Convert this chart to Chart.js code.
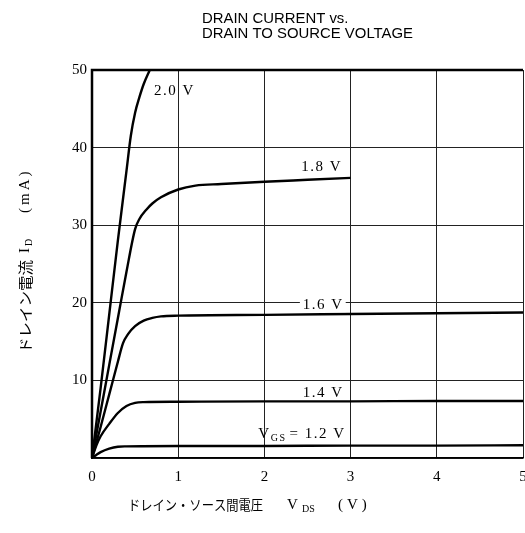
<!DOCTYPE html>
<html><head><meta charset="utf-8">
<script src="https://cdn.jsdelivr.net/npm/chart.js@4/dist/chart.umd.min.js"></script>
<style>html,body{margin:0;padding:0;background:#fff}#wrap{width:525px;height:533px}</style>
</head><body><div id="wrap"><canvas id="c" width="525" height="533"></canvas></div>
<script>
// ---- data ----
const vds20 = [0, 0.1, 0.2, 0.3, 0.4, 0.45, 0.5, 0.55, 0.6, 0.67];
const id20  = [0, 9, 18.5, 28, 37, 41.5, 44.5, 46.5, 48.2, 50];
const vds18 = [0, 0.1, 0.2, 0.3, 0.4, 0.5, 0.55, 0.63, 0.7, 0.8, 1.0, 1.2, 1.5, 2, 2.5, 3];
const id18  = [0, 6, 12, 18, 24, 29.5, 30.8, 32, 32.8, 33.6, 34.6, 35.1, 35.3, 35.6, 35.85, 36.1];
const vds16 = [0, 0.1, 0.2, 0.3, 0.36, 0.42, 0.5, 0.6, 0.7, 0.8, 1, 2, 3, 4, 5];
const id16  = [0, 4, 8.2, 12.4, 14.8, 16.0, 17.0, 17.7, 18.05, 18.25, 18.35, 18.45, 18.55, 18.65, 18.75];
const vds14 = [0, 0.05, 0.1, 0.2, 0.3, 0.4, 0.5, 0.6, 1, 2, 3, 4, 5];
const id14  = [0, 1.6, 2.8, 4.4, 5.8, 6.7, 7.1, 7.2, 7.25, 7.3, 7.3, 7.35, 7.35];
const vds12 = [0, 0.05, 0.1, 0.2, 0.3, 0.4, 1, 2, 3, 4, 5];
const id12  = [0, 0.4, 0.75, 1.2, 1.45, 1.5, 1.55, 1.55, 1.6, 1.6, 1.65];
const xTicks = [0, 1, 2, 3, 4, 5];
const yTicks = [0, 10, 20, 30, 40, 50];
const curveLabels = ['2.0 V', '1.8 V', '1.6 V', '1.4 V', '1.2 V'];
const titleLines = ['DRAIN CURRENT vs.', 'DRAIN TO SOURCE VOLTAGE'];
const xTitleJP = 'ドレイン・ソース間電圧';
const yTitleJP = 'ドレイン電流';

const pts = (xs, ys) => xs.map((x, i) => ({x, y: ys[i]}));
const SERIF = '"Liberation Serif", "DejaVu Serif", serif';
const JP = '"Noto Sans CJK JP", sans-serif';

function mkDs(xs, ys, label) {
  return { label, data: pts(xs, ys), borderColor: '#000', borderWidth: 2.4,
    pointRadius: 0, fill: false, cubicInterpolationMode: 'monotone' };
}

function drawParts(ctx, parts, x, y) {
  let cx = x;
  for (const p of parts) {
    ctx.font = p.f;
    if (p.gap) { cx += p.gap; continue; }
    ctx.fillText(p.t, cx, y + (p.dy || 0));
    cx += ctx.measureText(p.t).width + (p.after || 0);
  }
}
// draw text squeezed/stretched to a target width
function fitText(ctx, txt, font, x, y, w) {
  ctx.font = font;
  const m = ctx.measureText(txt).width;
  ctx.save(); ctx.translate(x, y); ctx.scale(w / m, 1);
  ctx.fillText(txt, 0, 0);
  ctx.restore();
}

const textPlugin = {
  id: 'texts',
  afterDatasetsDraw(chart) {
    const {ctx, chartArea: a, scales: {x, y}} = chart;
    ctx.save();
    ctx.strokeStyle = '#000';
    ctx.lineWidth = 2.5;
    ctx.beginPath();
    ctx.moveTo(a.left, a.bottom); ctx.lineTo(a.left, a.top); ctx.lineTo(a.right, a.top);
    ctx.stroke();

    ctx.fillStyle = '#000';
    ctx.textBaseline = 'middle';
    const lf = '15px ' + SERIF;
    ctx.font = lf;
    if (ctx.letterSpacing !== undefined) ctx.letterSpacing = '1.5px';
    ctx.textAlign = 'left';
    ctx.fillText(curveLabels[0], x.getPixelForValue(0.72), y.getPixelForValue(47.3));
    ctx.textAlign = 'right';
    ctx.fillText(curveLabels[1], x.getPixelForValue(2.9), y.getPixelForValue(37.5));
    function boxed(txt, xv, yv) {
      const w = ctx.measureText(txt).width;
      const px = x.getPixelForValue(xv), py = y.getPixelForValue(yv);
      ctx.fillStyle = '#fff';
      ctx.fillRect(px - w - 3, py - 7, w + 5, 14);
      ctx.fillStyle = '#000';
      ctx.fillText(txt, px, py);
    }
    boxed(curveLabels[2], 2.92, 19.7);
    boxed(curveLabels[3], 2.92, 8.4);
    ctx.textAlign = 'left';
    const yy = y.getPixelForValue(3.1);
    const x0 = x.getPixelForValue(1.93);
    drawParts(ctx, [
      {t: 'V', f: lf},
      {t: 'GS', f: '10px ' + SERIF, dy: 4, after: 3},
      {t: '= ' + curveLabels[4], f: lf}
    ], x0, yy);
    ctx.restore();
  },
  afterDraw(chart) {
    const {ctx} = chart;
    ctx.save();
    ctx.fillStyle = '#000';
    ctx.textBaseline = 'alphabetic';
    ctx.textAlign = 'left';
    ctx.font = '15px "Liberation Sans Narrow", "Liberation Sans", sans-serif';
    const w2 = ctx.measureText(titleLines[1]).width;
    const sx = 211 / w2;
    ctx.save(); ctx.translate(202, 0); ctx.scale(sx, 1);
    ctx.fillText(titleLines[0], 0, 23);
    ctx.fillText(titleLines[1], 0, 38);
    ctx.restore();

    // x axis title
    ctx.textBaseline = 'middle';
    const bf = '15px ' + SERIF, sf = '10px ' + SERIF;
    const ty = 505;
    fitText(ctx, xTitleJP, '14px ' + JP, 128, ty, 135);
    ctx.font = bf; ctx.fillText('V', 287, ty);
    ctx.font = sf; ctx.fillText('DS', 302, ty + 4);
    ctx.font = bf; if (ctx.letterSpacing !== undefined) ctx.letterSpacing = '4px';
    ctx.fillText('(V)', 338, ty);
    if (ctx.letterSpacing !== undefined) ctx.letterSpacing = '0px';

    // y axis title, rotated; positions measured upward from y=353
    ctx.save();
    ctx.translate(25, 353);
    ctx.rotate(-Math.PI / 2);
    fitText(ctx, yTitleJP, '14.5px ' + JP, 0, 0, 93);
    ctx.font = bf; ctx.fillText('I', 100, 0);
    ctx.font = sf; ctx.fillText('D', 107, 4);
    ctx.font = bf; if (ctx.letterSpacing !== undefined) ctx.letterSpacing = '3px';
    ctx.fillText('(mA)', 140, 0);
    ctx.restore();
    ctx.restore();
  }
};

new Chart(document.getElementById('c'), {
  type: 'line',
  data: { datasets: [
    mkDs(vds20, id20, curveLabels[0]),
    mkDs(vds18, id18, curveLabels[1]),
    mkDs(vds16, id16, curveLabels[2]),
    mkDs(vds14, id14, curveLabels[3]),
    mkDs(vds12, id12, curveLabels[4])
  ]},
  options: {
    responsive: false, animation: false, events: [],
    layout: { padding: { top: 70, right: 2, left: 0, bottom: 0 } },
    plugins: { legend: { display: false }, title: { display: false }, tooltip: { enabled: false } },
    scales: {
      x: { type: 'linear', min: 0, max: 5,
        afterFit: s => { s.height = 75; s.paddingLeft = 0; s.paddingRight = 0; },
        afterBuildTicks: s => { s.ticks = xTicks.map(v => ({value: v})); },
        ticks: { color: '#000', font: { family: SERIF, size: 15 }, padding: 10, maxRotation: 0 },
        grid: { color: '#222', lineWidth: 1, drawTicks: false },
        border: { color: '#000', width: 1.5 } },
      y: { type: 'linear', min: 0, max: 50,
        afterFit: s => { s.width = 92; s.paddingTop = 0; s.paddingBottom = 0; },
        afterBuildTicks: s => { s.ticks = yTicks.map(v => ({value: v})); },
        ticks: { color: '#000', font: { family: SERIF, size: 15 }, padding: 5,
          callback: v => (v === 0 ? '' : String(v)) },
        grid: { color: '#222', lineWidth: 1, drawTicks: false },
        border: { color: '#000', width: 2 } }
    }
  },
  plugins: [textPlugin]
});
</script></body></html>
